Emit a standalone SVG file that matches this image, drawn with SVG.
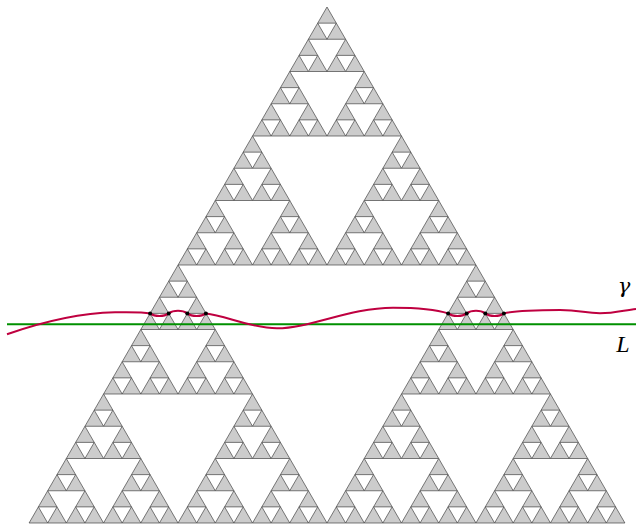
<svg xmlns="http://www.w3.org/2000/svg" xmlns:xlink="http://www.w3.org/1999/xlink" width="636" height="525" viewBox="0 0 636 525">
<style>
.tri{fill:#cccccc;stroke:#444444;stroke-width:0.7;stroke-linejoin:round}
.line{fill:none;stroke:#009000;stroke-width:2}
.curve{fill:none;stroke:#bf0040;stroke-width:2}
.dot{fill:#000000}
.lbl{font-family:"Liberation Serif","DejaVu Serif",serif;font-style:italic;font-size:24px;fill:#000000;text-anchor:middle}
.greek{font-family:"DejaVu Serif",serif;font-size:21px}
</style>
<defs>
<polygon id="t0" class="tri" points="0,0 -9.31,16.125 9.31,16.125"/>
<g id="t1"><use xlink:href="#t0"/><use xlink:href="#t0" x="-9.31" y="16.125"/><use xlink:href="#t0" x="9.31" y="16.125"/></g>
<g id="t2"><use xlink:href="#t1"/><use xlink:href="#t1" x="-18.62" y="32.25"/><use xlink:href="#t1" x="18.62" y="32.25"/></g>
<g id="t3"><use xlink:href="#t2"/><use xlink:href="#t2" x="-37.24" y="64.5"/><use xlink:href="#t2" x="37.24" y="64.5"/></g>
<g id="t4"><use xlink:href="#t3"/><use xlink:href="#t3" x="-74.48" y="129"/><use xlink:href="#t3" x="74.48" y="129"/></g>
<g id="t5"><use xlink:href="#t4"/><use xlink:href="#t4" x="-148.96" y="258"/><use xlink:href="#t4" x="148.96" y="258"/></g>
</defs>
<g id="sierpinski"><use xlink:href="#t5" x="327" y="7"/></g>
<g id="connectors">
<line id="L-line" class="line" x1="7" y1="324.3" x2="636" y2="324.3"/>
<path id="gamma-curve" class="curve" d="M7,334.3 C45,321 80,313 115,312.3 C133,312 143,312 150.1,313.4 C154.8,317 164,317 168.7,313.4 C173.4,310 182.6,310 187.3,313.4 C192,317 201.2,317 205.9,313.4 C225,315 250,328.3 277,328.3 C310,328.3 350,307.7 393,307.7 C420,307.7 438,310 448.1,313.4 C452.8,317 462,317 466.7,313.4 C471.4,310 480.6,310 485.3,313.4 C490,317 499.2,317 503.9,313.4 C515,310.5 535,310 560,310 C580,310 585,313.3 600,313.3 C615,313.3 625,310 636,309"/>
<g id="dots">
<circle class="dot" cx="150.1" cy="313.4" r="2"/>
<circle class="dot" cx="168.7" cy="313.4" r="2"/>
<circle class="dot" cx="187.3" cy="313.4" r="2"/>
<circle class="dot" cx="205.9" cy="313.4" r="2"/>
<circle class="dot" cx="448.1" cy="313.4" r="2"/>
<circle class="dot" cx="466.7" cy="313.4" r="2"/>
<circle class="dot" cx="485.3" cy="313.4" r="2"/>
<circle class="dot" cx="503.9" cy="313.4" r="2"/>
</g>
</g>
<g id="labels">
<text class="lbl greek" x="624" y="293">γ</text>
<text class="lbl" x="623" y="352">L</text>
</g>
</svg>
